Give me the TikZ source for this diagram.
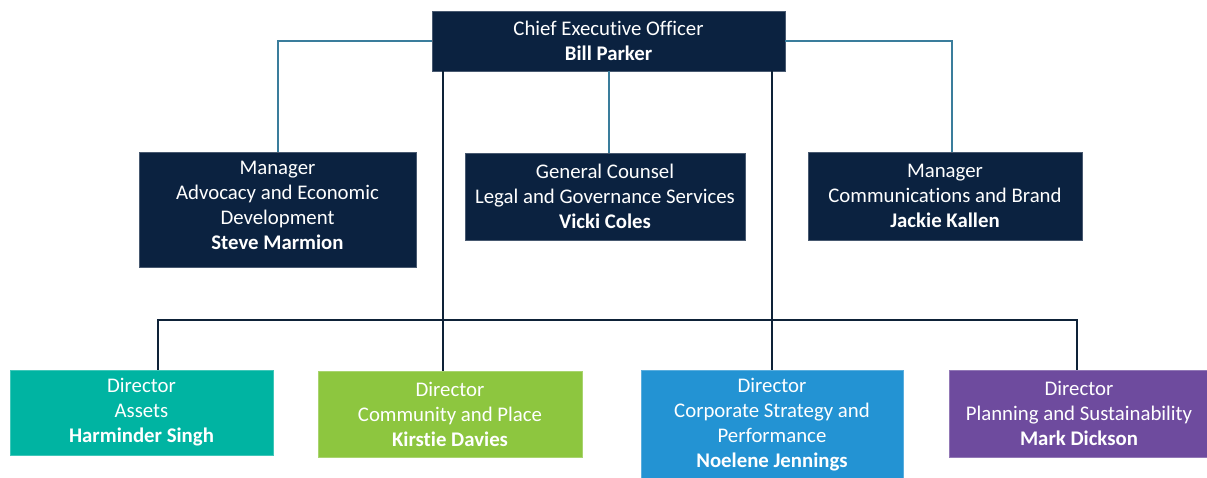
\documentclass[tikz,border=0pt]{standalone}
\usepackage{fontspec}
\setmainfont{Carlito}[Ligatures=NoCommon]
\definecolor{navy}{HTML}{0B2240}
\definecolor{mgrline}{HTML}{3A7D9C}
\definecolor{dirline}{HTML}{0E2238}
\definecolor{teal}{HTML}{00B4A2}
\definecolor{lime}{HTML}{8DC63F}
\definecolor{azure}{HTML}{2393D3}
\definecolor{violet}{HTML}{6E4B9E}
\begin{document}
\begin{tikzpicture}[x=1pt,y=-1pt,
  box/.style={rectangle, inner sep=0pt, fill=#1, draw=#1!75!white, line width=0.8pt,
    text=white, align=center, font=\fontsize{20.8}{25}\selectfont},
  mgr/.style={draw=mgrline, line width=2pt},
  dir/.style={draw=dirline, line width=2.6pt}]
\useasboundingbox (0,0) rectangle (1207,477);

% nodes
\node[box=navy, minimum width=353pt, minimum height=60pt] (ceo) at (608.5,41)
  {Chief Executive Officer\\ \textbf{Bill Parker}};
\node[box=navy, minimum width=277pt, minimum height=115pt] (steve) at (277.5,209.5)
  {Manager\\ Advocacy and Economic\\ Development\\ \textbf{Steve Marmion}\\[-16pt]};
\node[box=navy, minimum width=280pt, minimum height=87pt] (vicki) at (605,196.5)
  {General Counsel\\ Legal and Governance Services\\ \textbf{Vicki Coles}};
\node[box=navy, minimum width=274pt, minimum height=88pt] (jackie) at (945,196)
  {Manager\\ Communications and Brand\\ \textbf{Jackie Kallen}};

\node[box=teal, minimum width=263pt, minimum height=85pt] (harminder) at (141.5,412.5)
  {Director\\ Assets\\ \textbf{Harminder Singh}};
\node[box=lime, minimum width=264pt, minimum height=86pt] (kirstie) at (450,414)
  {Director\\ Community and Place\\ \textbf{Kirstie Davies}};
\node[box=azure, minimum width=262pt, minimum height=110pt] (noelene) at (772,425)
  {Director\\ Corporate Strategy and\\ Performance\\ \textbf{Noelene Jennings}};
\node[box=violet, minimum width=260pt, minimum height=87pt] (mark) at (1079,413.5)
  {Director\\ Planning and Sustainability\\ \textbf{Mark Dickson}};

% helper coordinates
\coordinate (kx) at (443,0);
\coordinate (nx) at (772,0);
\coordinate (jx) at (952,0);
\coordinate (barL) at (158,320);
\coordinate (barR) at (1077,320);

% manager connectors
\draw[mgr] (ceo.west) -| (steve.north);
\draw[mgr] (ceo.east) -| (jackie.north -| jx);
\draw[mgr] (ceo.south) -- (ceo.south |- vicki.north);

% director connectors
\draw[dir] (ceo.south -| kx) -- (kirstie.north -| kx);
\draw[dir] (ceo.south -| nx) -- (noelene.north);
\draw[dir] (harminder.north -| barL) -- (barL) -- (barR) -- (mark.north -| barR);
\end{tikzpicture}
\end{document}
